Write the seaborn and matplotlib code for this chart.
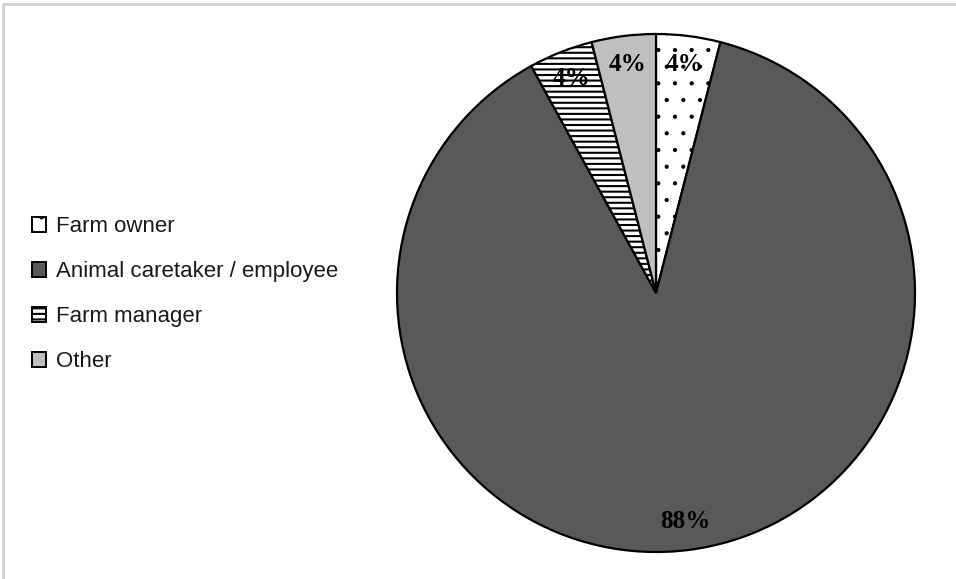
import matplotlib
matplotlib.use("Agg")
import matplotlib.pyplot as plt
import seaborn as sns
import numpy as np
from matplotlib.patches import Patch

categories = ["Farm owner", "Animal caretaker / employee", "Farm manager", "Other"]
values = [4, 88, 4, 4]
pct_labels = ["4%", "88%", "4%", "4%"]

sns.set_theme(style="white")
plt.rcParams["font.family"] = ["Liberation Sans", "DejaVu Sans"]
plt.rcParams["hatch.linewidth"] = 1.5

colors = ["#ffffff", "#595959", "#ffffff", "#bfbfbf"]
hatches = [".", None, "---", None]
hatch_lw = [0.6, 1.5, 1.5, 1.5]

W, H = 956, 579
fig = plt.figure(figsize=(W / 100, H / 100), dpi=100)
fig.patch.set_facecolor("white")

cx, cy, r = 656, 293, 259
ax = fig.add_axes([(cx - r) / W, (H - cy - r) / H, 2 * r / W, 2 * r / H])

wedges, texts = ax.pie(values, colors=colors, startangle=90, counterclock=False,
                       wedgeprops=dict(edgecolor="black", linewidth=1.6))
for w, h, lw in zip(wedges, hatches, hatch_lw):
    if h:
        w.set_hatch(h)
        try:
            w.set_hatch_linewidth(lw)
        except AttributeError:
            pass

for w, lab in zip(wedges, pct_labels):
    ang = np.deg2rad((w.theta1 + w.theta2) / 2)
    d = 0.89
    ax.text(d * np.cos(ang), d * np.sin(ang), lab, ha="center", va="center",
            fontsize=18, fontweight="bold", family=["Liberation Serif"], color="black")
ax.set_xlim(-1, 1)
ax.set_ylim(-1, 1)
ax.axis("off")

handles = []
for c, h, lw in zip(colors, hatches, hatch_lw):
    p = Patch(facecolor=c, edgecolor="black", hatch=h, linewidth=1.4)
    try:
        p.set_hatch_linewidth(lw)
    except AttributeError:
        pass
    handles.append(p)
leg = fig.legend(handles, categories, loc="upper left", bbox_to_anchor=(32 / W, 1 - 216 / H),
                 frameon=False, fontsize=16, handlelength=0.65, handleheight=0.65,
                 handletextpad=0.42, labelspacing=1.08, borderaxespad=0, borderpad=0)
for t in leg.get_texts():
    t.set_color("#1a1a1a")

# thin grey frame lines at top and left
fig.add_artist(plt.Line2D([3 / W, 1], [1 - 4 / H, 1 - 4 / H], color="#d0d0d0", lw=2, transform=fig.transFigure))
fig.add_artist(plt.Line2D([3 / W, 3 / W], [0, 1 - 4 / H], color="#d0d0d0", lw=2, transform=fig.transFigure))

fig.savefig("out.png", dpi=100)
